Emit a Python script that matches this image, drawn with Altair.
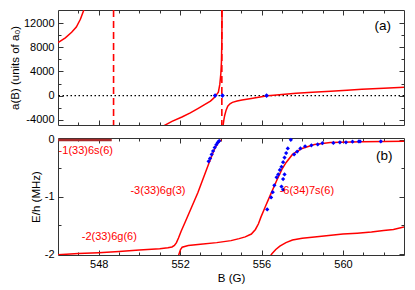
import altair as alt
import pandas as pd

# ---------------- data ----------------
# panel (a): scattering length a(B) in units of a0
a_left_B = [546.0, 546.36, 546.67, 546.90, 547.10, 547.27]
a_left_a = [8770, 9540, 10460, 11340, 12615, 14150]

a_mid_B = [551.14, 551.6, 552.09, 552.5, 552.87, 553.2, 553.49, 553.65, 553.75,
           553.88, 553.95, 554.0, 554.03, 554.05, 554.06]
a_mid_a = [-5100, -4250, -3540, -2850, -2150, -1500, -900, -420, 0,
           570, 1850, 3600, 5500, 9000, 14200]

a_right_B = [554.10, 554.15, 554.19, 554.26, 554.34, 554.45, 554.57, 554.8, 555.04,
             555.5, 556.0, 556.3, 556.6, 557.0, 557.7, 558.5, 559.4, 560.2, 560.93,
             562.0, 563.0]
a_right_a = [-5200, -4000, -3280, -2400, -1740, -1350, -1120, -880, -720,
             -480, -200, -40, 60, 190, 380, 560, 720, 880, 1030, 1200, 1380]

a_zero_B = [553.72, 554.08, 556.25]
a_zero_a = [0, 0, 0]

resonance_B = [548.73, 554.05]

# panel (b): bound-state energies E/h in MHz
P_B = [546.0, 547.0, 548.0, 549.0, 550.0, 551.0, 551.4, 551.6, 551.72, 551.82,
       551.92, 552.05, 552.25, 552.87, 553.41, 553.72, 553.85, 553.95, 554.03]
P_E = [-2.012, -1.99, -1.975, -1.955, -1.93, -1.905, -1.89, -1.875, -1.85, -1.80,
       -1.72, -1.60, -1.44, -0.93, -0.42, -0.14, -0.07, -0.03, -0.005]

Q_B = [551.9, 551.95, 552.02, 552.1, 552.4, 553.0, 553.8, 554.5, 554.9, 555.2,
       555.5, 555.7, 555.85, 555.97, 556.19, 556.42, 556.74, 557.0, 557.21, 557.52,
       557.99, 558.6, 559.38, 560.93, 563.0]
Q_E = [-2.05, -1.995, -1.92, -1.88, -1.85, -1.83, -1.80, -1.765, -1.73, -1.70,
       -1.65, -1.57, -1.47, -1.355, -1.17, -0.98, -0.72, -0.52, -0.40, -0.26,
       -0.155, -0.085, -0.052, -0.037, -0.03]

R_B = [556.42, 556.51, 556.7, 556.9, 557.2, 557.52, 558.0, 558.6, 559.3, 560.0,
       560.7, 561.4, 562.0, 562.48, 563.0]
R_E = [-2.04, -1.995, -1.92, -1.86, -1.80, -1.755, -1.725, -1.70, -1.675, -1.65,
       -1.635, -1.615, -1.59, -1.57, -1.525]

S_B = [546.0, 548.64]
S_E = [-0.008, -0.008]

dot_B = [553.40, 553.47, 553.55, 553.62, 553.70, 553.78, 553.85, 553.92,
         556.28, 556.47, 556.55, 556.63, 556.74, 556.82, 556.90, 556.98, 557.06,
         557.13, 557.21, 557.29, 557.44,
         557.13, 557.06, 556.98, 557.06,
         557.60, 557.75, 557.91, 558.14, 558.45, 558.76, 558.99, 559.53, 559.85,
         560.15, 560.47, 560.78, 560.84, 561.86]
dot_E = [-0.38, -0.33, -0.26, -0.20, -0.14, -0.09, -0.05, -0.025,
         -1.22, -1.01, -0.92, -0.80, -0.66, -0.61, -0.53, -0.475, -0.395,
         -0.315, -0.235, -0.155, -0.005,
         -0.61, -0.69, -0.82, -0.875,
         -0.26, -0.21, -0.155, -0.117, -0.10, -0.085, -0.064, -0.059, -0.048,
         -0.048, -0.037, -0.032, -0.032, -0.032]

lab_text = ["-1(33)6s(6)", "-3(33)6g(3)", "-2(33)6g(6)", "-6(34)7s(6)"]
lab_B = [546.03, 549.56, 547.17, 556.89]
lab_E = [-0.20, -0.89, -1.71, -0.90]

x_major = [548, 552, 556, 560]
x_minor = [547, 549, 550, 551, 553, 554, 555, 557, 558, 559, 561, 562]
ya_major = [-4000, 0, 4000, 8000, 12000]
ya_minor = [-2000, 2000, 6000, 10000]
ye_major = [-2, -1, 0]
ye_minor = [-1.5, -0.5]

# ---------------- styling ----------------
FONT = "Liberation Sans"
RED = "#ff0000"
DARKRED = "#a52a2a"
BLUE = "#0000ff"
FRAME = "#333333"
W = 346
H1 = 115
H2 = 117

xs = alt.Scale(domain=[546, 563], nice=False, zero=False)
ysA = alt.Scale(domain=[-4860, 14150], nice=False, zero=False)
ysE = alt.Scale(domain=[-2.016, 0.027], nice=False, zero=False)


def tick_axis(orient, offset, values, size):
    return alt.Axis(orient=orient, offset=offset, values=values, tickSize=size,
                    labels=False, domain=False, grid=False, title=None,
                    tickColor=FRAME, tickWidth=1)


def xa(axis):
    return alt.X("B:Q", scale=xs, axis=axis)


def yA(axis):
    return alt.Y("a:Q", scale=ysA, axis=axis)


def yE(axis):
    return alt.Y("E:Q", scale=ysE, axis=axis)


def df(b, v, name):
    return pd.DataFrame({"B": b, name: v})


line_style = dict(color=RED, strokeWidth=1.5, clip=True)

# ---------------- panel (a) ----------------
ta1 = alt.Chart(df(a_left_B, a_left_a, "a")).mark_line(**line_style).encode(
    x=xa(tick_axis("bottom", -H1, x_major, 5)),
    y=yA(alt.Axis(orient="left", values=ya_major, ticks=False, domain=False,
                  grid=False, labelPadding=4, titlePadding=3,
                  title="a(B) (units of a₀)", labelExpr="'' + datum.value")),
)
ta2 = alt.Chart(df(a_mid_B, a_mid_a, "a")).mark_line(**line_style).encode(
    x=xa(tick_axis("bottom", -H1, x_minor, 3)),
    y=yA(tick_axis("right", -W, ya_major, 5)),
)
ta3 = alt.Chart(df(a_right_B, a_right_a, "a")).mark_line(**line_style).encode(
    x=xa(tick_axis("top", -H1, x_major, 5)),
    y=yA(tick_axis("right", -W, ya_minor, 3)),
)
ta4 = alt.Chart(df(a_zero_B, a_zero_a, "a")).mark_point(
    shape="diamond", filled=True, color=BLUE, size=22, opacity=1).encode(
    x=xa(tick_axis("top", -H1, x_minor, 3)),
    y=yA(tick_axis("left", -W, ya_major, 5)),
)
ta5 = alt.Chart(pd.DataFrame({"a": [0]})).mark_rule(
    color="black", strokeDash=[1.5, 2.5], strokeWidth=1.2).encode(
    y=yA(tick_axis("left", -W, ya_minor, 3)),
)
ta6 = alt.Chart(pd.DataFrame({"B": resonance_B})).mark_rule(
    color=RED, strokeDash=[7, 4], strokeWidth=1.6).encode(
    x=xa(None),
)
ta7 = alt.Chart(pd.DataFrame({"B": [561.96], "a": [11540], "t": ["(a)"]})).mark_text(
    fontSize=13.5, font=FONT, color="black").encode(
    x=xa(None), y=yA(None), text="t:N")

top = alt.layer(ta6, ta5, ta1, ta2, ta3, ta4, ta7).properties(
    width=W, height=H1).resolve_axis(x="independent", y="independent")

# ---------------- panel (b) ----------------
tb1 = alt.Chart(df(P_B, P_E, "E")).mark_line(**line_style).encode(
    x=xa(alt.Axis(orient="bottom", values=x_major, ticks=False, domain=False,
                  grid=False, labelPadding=3, titlePadding=3, title="B (G)",
                  labelFlush=False)),
    y=yE(alt.Axis(orient="left", values=ye_major, ticks=False, domain=False,
                  grid=False, labelPadding=4, titlePadding=3,
                  title="E/h (MHz)", labelExpr="'' + datum.value")),
)
tb2 = alt.Chart(df(Q_B, Q_E, "E")).mark_line(**line_style).encode(
    x=xa(tick_axis("bottom", -H2, x_major, 5)),
    y=yE(tick_axis("right", -W, ye_major, 5)),
)
tb3 = alt.Chart(df(R_B, R_E, "E")).mark_line(**line_style).encode(
    x=xa(tick_axis("bottom", -H2, x_minor, 3)),
    y=yE(tick_axis("right", -W, ye_minor, 3)),
)
tb4 = alt.Chart(df(S_B, S_E, "E")).mark_line(color=DARKRED, strokeWidth=2.5, clip=True).encode(
    x=xa(tick_axis("top", -H2, x_major, 5)),
    y=yE(tick_axis("left", -W, ye_major, 5)),
)
tb5 = alt.Chart(df(dot_B, dot_E, "E")).mark_point(
    shape="diamond", filled=True, color=BLUE, size=18, opacity=1).encode(
    x=xa(tick_axis("top", -H2, x_minor, 3)),
    y=yE(tick_axis("left", -W, ye_minor, 3)),
)
tb6 = alt.Chart(pd.DataFrame({"B": lab_B, "E": lab_E, "t": lab_text})).mark_text(
    fontSize=11, font=FONT, color=RED, align="left", baseline="middle").encode(
    x=xa(None), y=yE(None), text="t:N")
tb7 = alt.Chart(pd.DataFrame({"B": [562.03], "E": [-0.28], "t": ["(b)"]})).mark_text(
    fontSize=13.5, font=FONT, color="black").encode(
    x=xa(None), y=yE(None), text="t:N")

bottom = alt.layer(tb1, tb2, tb3, tb4, tb5, tb6, tb7).properties(
    width=W, height=H2).resolve_axis(x="independent", y="independent")

chart = alt.vconcat(top, bottom, spacing=6).properties(
    padding={"left": 0, "top": 0, "right": 0, "bottom": 0}
).configure(font=FONT).configure_view(
    stroke=FRAME, strokeWidth=1
).configure_axis(
    labelFont=FONT, titleFont=FONT, labelFontSize=11, titleFontSize=11.5,
    titleFontWeight="normal", labelColor="black", titleColor="black"
)

chart.save("out.html", embed_options={"renderer": "svg", "actions": False})
